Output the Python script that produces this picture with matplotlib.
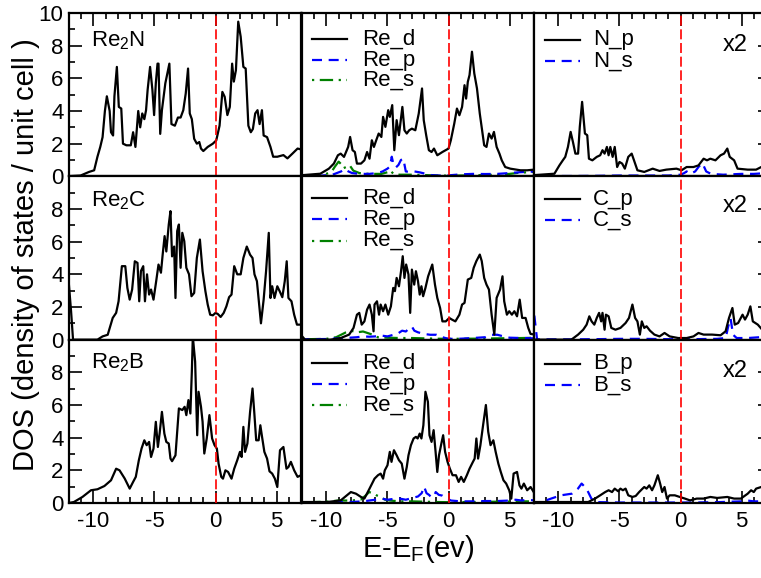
import matplotlib
matplotlib.use('Agg')
import matplotlib.pyplot as plt
from matplotlib.ticker import MultipleLocator, FixedLocator

plt.rcParams['font.family'] = ['Liberation Sans', 'DejaVu Sans']
plt.rcParams['mathtext.default'] = 'regular'
plt.rcParams['axes.unicode_minus'] = False

# ---------------- data ----------------
# Row 1: Re2N
re2n_tot_x = [-12.3, -11.05, -10.36, -9.94, -9.67, -9.44, -9.25, -9.06, -8.9, -8.67, -8.56, -8.39, -8.28, -8.08, -7.92, -7.72, -7.58, -7.3, -6.94, -6.75, -6.56, -6.33, -6.17, -6.0, -5.83, -5.69, -5.56, -5.36, -5.17, -5.03, -4.89, -4.75, -4.67, -4.53, -4.39, -4.11, -3.78, -3.61, -3.33, -3.08, -2.86, -2.64, -2.44, -2.25, -2.11, -1.94, -1.75, -1.53, -1.33, -1.19, -1.0, -0.64, -0.22, 0.06, 0.33, 0.56, 0.75, 0.97, 1.17, 1.36, 1.5, 1.67, 1.86, 2.06, 2.28, 2.47, 2.69, 2.89, 3.06, 3.25, 3.44, 3.61, 3.8, 3.94, 4.22, 4.5, 4.72, 5.06, 5.56, 5.89, 6.31, 6.72, 7.0]
re2n_tot_y = [0, 0.05, 0.27, 0.37, 1.2, 1.8, 2.4, 4.0, 4.9, 4.0, 2.7, 2.5, 4.9, 6.7, 4.25, 4.15, 2.0, 1.9, 1.9, 2.7, 1.8, 4.0, 3.0, 3.85, 3.5, 4.05, 5.3, 6.7, 5.3, 3.75, 5.7, 6.9, 6.9, 2.6, 4.05, 5.7, 6.9, 3.2, 3.1, 3.6, 3.6, 4.05, 5.07, 6.6, 3.85, 3.5, 2.3, 2.0, 2.1, 1.7, 1.55, 1.8, 2.0, 2.2, 3.1, 5.17, 4.87, 3.75, 4.25, 6.9, 5.8, 6.5, 9.47, 8.55, 6.7, 6.6, 3.1, 2.7, 2.9, 3.85, 4.05, 3.2, 4.05, 2.5, 2.4, 1.8, 1.2, 1.2, 1.3, 1.1, 1.4, 1.7, 1.65]

re2n_red_x = [-12.17, -10.5, -9.8, -9.39, -9.06, -8.83, -8.56, -8.22, -8.06, -7.86, -7.67, -7.5, -7.17, -6.89, -6.67, -6.47, -6.28, -6.11, -5.92, -5.72, -5.5, -5.36, -5.17, -4.94, -4.81, -4.61, -4.44, -4.25, -4.06, -3.78, -3.61, -3.42, -3.22, -3.0, -2.72, -2.44, -2.17, -2.03, -1.83, -1.61, -1.39, -1.19, -0.92, -0.5, 0.0, 0.19, 0.47, 0.69, 0.89, 1.11, 1.31, 1.44, 1.58, 1.72, 1.92, 2.11, 2.33, 2.56, 2.75, 2.92, 3.11, 3.31, 3.53, 3.72, 3.94, 4.17, 4.36, 4.64, 5.06, 5.89, 6.44, 7.0]
re2n_red_y = [0.06, 0.16, 0.47, 0.78, 1.29, 1.39, 1.19, 1.8, 2.41, 1.6, 1.49, 0.78, 0.78, 0.98, 1.49, 1.08, 2.21, 1.8, 2.21, 2.62, 2.41, 3.64, 3.03, 4.05, 3.64, 4.36, 1.6, 3.44, 2.52, 4.25, 2.82, 2.62, 2.82, 2.92, 2.82, 3.84, 5.38, 3.44, 2.52, 1.6, 1.49, 1.7, 1.29, 1.49, 1.7, 2.21, 3.23, 4.15, 3.74, 4.25, 5.58, 4.76, 5.79, 6.2, 7.63, 6.3, 5.38, 3.84, 2.82, 1.9, 1.8, 2.62, 2.31, 2.72, 1.8, 1.39, 0.98, 0.57, 0.47, 0.37, 0.37, 0.41]
re2n_rep_x = [-12.2, -10.5, -9.5, -8.8, -8.5, -8.2, -7.9, -7.3, -6.5, -5.8, -5.4, -5.0, -4.8, -4.65, -4.5, -4.3, -4.1, -3.9, -3.7, -3.5, -3.2, -2.8, -2.4, -2.0, -1.5, -0.8, 0.0, 1.0, 2.0, 3.0, 4.0, 5.0, 5.8, 6.5, 7.1]
re2n_rep_y = [0.02, 0.04, 0.1, 0.3, 0.45, 0.3, 0.2, 0.15, 0.15, 0.2, 0.3, 0.47, 0.6, 1.2, 0.7, 0.55, 0.7, 1.0, 1.08, 0.3, 0.27, 0.3, 0.25, 0.18, 0.08, 0.05, 0.06, 0.12, 0.15, 0.14, 0.15, 0.2, 0.25, 0.28, 0.3]
re2n_res_x = [-12.2, -10.5, -9.8, -9.5, -9.3, -9.0, -8.8, -8.6, -8.3, -8.1, -7.8, -7.3, -6.5, -5.5, -5.0, -4.8, -4.5, -4.0, -3.0, -2.0, -1.0, 0.0, 1.0, 2.0, 3.0, 4.0, 5.0, 5.8, 6.5, 7.1]
re2n_res_y = [0.02, 0.05, 0.2, 0.37, 0.6, 0.9, 0.75, 0.5, 0.6, 0.68, 0.35, 0.2, 0.15, 0.15, 0.25, 0.37, 0.15, 0.1, 0.1, 0.08, 0.05, 0.04, 0.05, 0.06, 0.08, 0.1, 0.15, 0.22, 0.25, 0.28]

n_p_x = [-12.28, -10.33, -9.92, -9.64, -9.44, -9.22, -9.0, -8.81, -8.61, -8.39, -8.25, -8.06, -7.83, -7.64, -7.5, -7.22, -6.86, -6.58, -6.39, -6.22, -6.03, -5.89, -5.75, -5.56, -5.39, -5.19, -5.0, -4.78, -4.56, -4.28, -4.0, -3.81, -3.53, -2.97, -2.28, -1.72, -1.17, -0.33, 0.08, 0.5, 1.06, 1.47, 1.89, 2.17, 2.44, 2.86, 3.28, 3.56, 3.83, 4.03, 4.39, 4.67, 5.5, 6.19, 6.61, 7.1]
n_p_y = [0.06, 0.16, 0.67, 0.98, 1.19, 1.8, 2.72, 2.1, 1.39, 1.39, 3.03, 4.56, 2.62, 2.52, 1.08, 0.98, 1.19, 1.29, 1.6, 1.39, 1.8, 1.29, 1.8, 1.19, 1.8, 0.57, 0.88, 0.78, 0.47, 1.19, 1.39, 0.98, 0.37, 0.27, 0.47, 0.33, 0.41, 0.47, 0.37, 0.57, 0.57, 0.67, 1.08, 0.98, 1.08, 0.98, 1.29, 1.39, 1.7, 1.19, 0.98, 0.47, 0.41, 0.41, 0.57, 0.6]
n_s_x = [-12.3, -12.0, -11.0, -9.0, -7.0, -5.0, -3.0, -1.0, 0.0, 0.3, 0.5, 0.8, 1.2, 1.5, 1.8, 2.1, 2.5, 3.5, 5.0, 6.0, 7.1]
n_s_y = [0.3, 0.05, 0.02, 0.02, 0.03, 0.05, 0.05, 0.05, 0.1, 0.2, 0.3, 0.15, 0.3, 0.6, 0.8, 0.3, 0.15, 0.1, 0.15, 0.15, 0.2]

# Row 2: Re2C
re2c_tot_x = [-12.03, -11.83, -11.67, -9.67, -9.25, -8.83, -8.42, -8.14, -7.94, -7.67, -7.39, -7.22, -7.03, -6.83, -6.61, -6.39, -6.25, -6.11, -5.92, -5.78, -5.61, -5.44, -5.28, -5.08, -4.86, -4.67, -4.47, -4.33, -4.17, -4.03, -3.83, -3.69, -3.56, -3.39, -3.28, -3.14, -3.0, -2.86, -2.72, -2.56, -2.39, -2.17, -1.97, -1.75, -1.53, -1.28, -1.06, -0.83, -0.64, -0.44, -0.22, 0.0, 0.19, 0.42, 0.67, 0.89, 1.11, 1.31, 1.53, 1.78, 2.06, 2.28, 2.56, 2.83, 3.03, 3.19, 3.39, 3.72, 3.94, 4.14, 4.36, 4.5, 4.64, 4.83, 5.06, 5.25, 5.47, 5.67, 5.83, 5.97, 6.22, 6.44, 6.67, 7.0]
re2c_tot_y = [3.58, 1.74, 0, 0, 0.2, 0.3, 1.33, 1.64, 2.35, 4.5, 4.5, 3.17, 2.45, 3.07, 4.8, 4.7, 2.35, 4.2, 4.5, 2.35, 4.0, 2.76, 3.07, 2.45, 3.58, 4.6, 4.1, 5.2, 6.34, 5.4, 7.05, 7.87, 5.1, 5.7, 2.55, 6.65, 7.05, 4.4, 6.54, 6.03, 4.4, 4.0, 2.66, 2.86, 5.0, 6.13, 4.19, 2.97, 2.15, 1.53, 1.49, 1.64, 1.57, 1.39, 1.64, 2.04, 2.6, 2.76, 4.5, 4.0, 4.0, 5.0, 5.7, 5.2, 5.0, 4.0, 3.58, 1.0, 2.45, 4.2, 6.54, 2.55, 3.27, 2.55, 3.27, 2.97, 2.6, 3.58, 4.8, 2.55, 2.35, 1.53, 0.92, 0.92]

re2c_red_x = [-12.1, -11.75, -9.67, -8.83, -8.14, -7.78, -7.5, -7.31, -7.11, -6.89, -6.67, -6.47, -6.28, -6.14, -6.06, -5.86, -5.69, -5.56, -5.36, -5.17, -4.94, -4.72, -4.53, -4.39, -4.25, -4.06, -3.89, -3.75, -3.61, -3.47, -3.28, -3.14, -3.0, -2.81, -2.67, -2.5, -2.36, -2.22, -2.08, -1.89, -1.67, -1.33, -1.11, -0.92, -0.69, -0.5, -0.22, 0.06, 0.28, 0.56, 0.89, 1.11, 1.31, 1.58, 1.86, 2.06, 2.28, 2.56, 2.72, 2.92, 3.11, 3.31, 3.53, 3.75, 3.94, 4.22, 4.42, 4.56, 4.78, 4.97, 5.19, 5.39, 5.61, 5.83, 6.03, 6.31, 6.53, 6.72, 7.14]
re2c_red_y = [0.3, 0, 0, 0.1, 0.31, 0.72, 1.53, 1.64, 0.92, 1.12, 1.84, 2.15, 1.53, 0.51, 2.15, 2.35, 1.53, 2.15, 1.74, 2.15, 1.53, 2.04, 3.17, 2.97, 3.78, 3.27, 4.19, 5.11, 3.78, 4.6, 3.99, 1.64, 4.29, 3.37, 4.19, 3.58, 2.76, 3.27, 2.66, 3.17, 3.88, 4.6, 3.37, 2.56, 1.94, 1.12, 1.12, 1.33, 1.23, 1.12, 1.53, 2.15, 2.25, 3.68, 3.78, 4.4, 4.81, 5.21, 4.81, 3.78, 3.37, 3.07, 1.53, 0.31, 2.56, 3.07, 3.88, 2.35, 1.53, 1.74, 1.53, 1.74, 1.43, 2.45, 1.33, 1.33, 0.72, 0.35, 0.31]
re2c_rep_x = [-12.2, -10.0, -8.5, -7.5, -7.0, -6.5, -6.0, -5.5, -5.0, -4.5, -4.2, -3.8, -3.5, -3.2, -3.0, -2.8, -2.5, -2.0, -1.5, -1.0, -0.5, 0.0, 1.0, 2.0, 3.0, 3.5, 4.0, 4.5, 5.0, 6.0, 7.1]
re2c_rep_y = [0.02, 0.04, 0.1, 0.15, 0.2, 0.18, 0.2, 0.25, 0.2, 0.3, 0.35, 0.55, 0.5, 0.7, 0.8, 0.55, 0.45, 0.35, 0.3, 0.3, 0.15, 0.05, 0.06, 0.1, 0.15, 0.3, 0.3, 0.2, 0.12, 0.1, 0.08]
re2c_res_x = [-12.2, -10.0, -9.2, -8.8, -8.4, -8.0, -7.5, -7.0, -6.6, -6.2, -5.8, -5.0, -4.0, -3.0, -2.0, -1.0, 0.0, 2.0, 4.0, 6.0, 7.1]
re2c_res_y = [0.02, 0.05, 0.15, 0.3, 0.45, 0.55, 0.45, 0.5, 0.4, 0.3, 0.15, 0.12, 0.1, 0.1, 0.08, 0.06, 0.05, 0.06, 0.08, 0.1, 0.12]

c_p_x = [-12.28, -8.94, -8.39, -7.97, -7.69, -7.47, -7.28, -7.06, -6.86, -6.67, -6.5, -6.39, -6.22, -6.11, -5.89, -5.67, -5.33, -4.92, -4.5, -4.22, -3.94, -3.72, -3.53, -3.33, -3.17, -2.97, -2.78, -2.5, -2.14, -1.72, -1.31, -0.89, -0.19, 0.5, 1.06, 1.47, 1.89, 2.58, 3.28, 3.69, 3.97, 4.25, 4.44, 4.72, 5.08, 5.28, 5.5, 5.72, 5.92, 6.33, 6.69, 7.1]
c_p_y = [0, 0, 0.31, 0.61, 0.92, 1.43, 1.12, 0.92, 1.33, 1.64, 1.12, 1.64, 0.61, 1.53, 1.43, 0.72, 0.61, 0.72, 1.02, 1.33, 2.15, 1.33, 1.12, 0.31, 1.12, 0.72, 0.82, 0.55, 0.31, 0.2, 0.41, 0.2, 0.1, 0.1, 0.2, 0.41, 0.31, 0.31, 0.27, 0.51, 1.33, 1.94, 0.92, 1.02, 1.53, 1.23, 1.53, 2.04, 1.12, 0.92, 0.61, 0.55]
c_s_x = [-12.3, -12.1, -11.75, -11.0, -9.0, -7.0, -5.0, -3.0, -1.0, 1.0, 3.0, 3.7, 3.9, 4.1, 4.3, 4.6, 5.5, 6.5, 7.1]
c_s_y = [3.5, 2.3, 0.02, 0.02, 0.02, 0.03, 0.05, 0.05, 0.03, 0.03, 0.05, 0.1, 0.8, 1.3, 0.3, 0.1, 0.1, 0.15, 0.5]

# Row 3: Re2B
re2b_tot_x = [-12.03, -11.6, -10.9, -10.2, -9.67, -9.1, -8.56, -8.14, -7.86, -7.44, -7.03, -6.75, -6.53, -6.28, -6.06, -5.83, -5.64, -5.44, -5.28, -5.08, -4.89, -4.72, -4.58, -4.39, -4.19, -4.03, -3.83, -3.69, -3.56, -3.28, -3.0, -2.72, -2.53, -2.39, -2.22, -2.06, -1.94, -1.86, -1.67, -1.5, -1.39, -1.19, -1.06, -0.92, -0.72, -0.5, -0.28, -0.08, 0.11, 0.25, 0.47, 0.61, 0.81, 1.03, 1.31, 1.53, 1.78, 2.0, 2.14, 2.28, 2.42, 2.61, 2.83, 3.03, 3.17, 3.33, 3.53, 3.67, 3.81, 4.0, 4.22, 4.42, 4.64, 4.86, 5.06, 5.28, 5.56, 5.81, 5.97, 6.17, 6.44, 6.72, 7.0]
re2b_tot_y = [0, 0.06, 0.37, 0.78, 0.84, 1.04, 1.39, 2.1, 2.0, 1.5, 0.88, 1.29, 1.6, 2.62, 3.33, 3.84, 3.54, 3.74, 2.82, 3.33, 4.97, 3.43, 4.25, 5.58, 4.25, 3.74, 3.64, 2.72, 2.56, 2.92, 5.79, 5.69, 5.89, 5.38, 6.3, 5.48, 8.04, 10.2, 8.65, 4.15, 6.81, 5.89, 4.97, 3.03, 3.95, 5.38, 3.95, 3.54, 3.33, 2.41, 1.6, 1.49, 2.0, 1.9, 1.49, 2.1, 2.62, 3.13, 2.82, 4.66, 3.13, 3.64, 5.58, 7.01, 5.58, 3.84, 3.84, 4.76, 4.05, 3.13, 2.72, 1.94, 1.8, 1.49, 0.98, 3.23, 3.43, 2.1, 2.2, 2.52, 2.0, 1.6, 1.7]

re2b_red_x = [-12.1, -9.94, -8.83, -8.0, -7.58, -7.17, -6.89, -6.47, -6.06, -5.78, -5.56, -5.36, -5.22, -5.0, -4.81, -4.67, -4.47, -4.25, -4.06, -3.83, -3.61, -3.42, -3.28, -3.08, -2.86, -2.67, -2.53, -2.36, -2.22, -2.06, -1.89, -1.69, -1.56, -1.39, -1.22, -1.06, -0.92, -0.78, -0.56, -0.44, -0.28, -0.08, 0.11, 0.33, 0.61, 0.83, 1.03, 1.25, 1.5, 1.72, 2.0, 2.14, 2.28, 2.42, 2.61, 2.83, 3.06, 3.25, 3.44, 3.67, 3.86, 4.08, 4.28, 4.5, 4.72, 4.97, 5.14, 5.33, 5.61, 5.81, 5.97, 6.17, 6.44, 6.72, 7.06]
re2b_red_y = [0.06, 0.06, 0.16, 0.67, 0.57, 0.37, 0.27, 0.88, 1.49, 1.7, 1.8, 1.49, 2.0, 2.31, 3.13, 2.52, 3.23, 2.92, 2.62, 2.41, 1.49, 2.21, 2.92, 3.54, 3.95, 4.05, 3.95, 4.25, 3.95, 4.76, 6.81, 6.2, 4.15, 3.74, 4.46, 3.13, 1.9, 2.92, 3.74, 4.15, 3.13, 2.52, 2.1, 1.7, 1.7, 1.29, 1.6, 1.29, 1.7, 2.1, 2.52, 2.72, 3.95, 2.72, 3.54, 4.76, 6.0, 4.36, 3.54, 3.84, 3.13, 2.41, 1.9, 1.39, 1.19, 0.78, 0.27, 1.8, 1.9, 1.08, 0.88, 1.19, 0.78, 0.98, 0.57]
re2b_rep_x = [-12.2, -10.0, -8.0, -7.0, -6.5, -6.0, -5.5, -5.0, -4.5, -4.0, -3.5, -3.0, -2.5, -2.2, -2.0, -1.8, -1.6, -1.4, -1.2, -1.05, -0.8, -0.5, -0.2, 0.2, 1.0, 2.0, 3.0, 4.0, 5.0, 5.5, 6.0, 6.5, 7.1]
re2b_rep_y = [0.02, 0.04, 0.06, 0.1, 0.15, 0.2, 0.27, 0.2, 0.25, 0.27, 0.2, 0.3, 0.4, 0.6, 1.0, 0.6, 0.5, 0.35, 0.4, 0.67, 0.5, 0.45, 0.3, 0.15, 0.1, 0.1, 0.12, 0.12, 0.15, 0.2, 0.15, 0.2, 0.15]
re2b_res_x = [-12.2, -10.0, -9.0, -8.0, -7.2, -6.8, -6.5, -6.2, -5.9, -5.5, -5.2, -4.8, -4.0, -3.0, -2.0, -1.0, 0.0, 2.0, 4.0, 6.0, 7.1]
re2b_res_y = [0.03, 0.08, 0.15, 0.15, 0.2, 0.45, 0.67, 0.6, 0.47, 0.35, 0.2, 0.15, 0.1, 0.1, 0.08, 0.06, 0.05, 0.06, 0.08, 0.1, 0.1]

b_p_x = [-12.28, -7.56, -7.0, -6.58, -6.17, -5.89, -5.61, -5.39, -5.11, -4.92, -4.72, -4.5, -4.28, -3.94, -3.67, -3.39, -3.11, -2.97, -2.78, -2.56, -2.33, -2.14, -1.86, -1.67, -1.5, -1.31, -1.11, -0.89, -0.47, -0.06, 0.36, 0.78, 1.33, 1.89, 2.44, 3.0, 3.83, 4.39, 4.94, 5.5, 5.78, 6.0, 6.19, 6.61, 7.1]
b_p_y = [0.06, 0.06, 0.27, 0.47, 0.67, 0.78, 0.67, 0.88, 0.72, 0.88, 0.78, 0.88, 0.47, 0.37, 0.43, 0.67, 0.88, 0.98, 0.88, 1.08, 0.78, 1.08, 1.7, 1.19, 0.67, 0.98, 0.27, 0.47, 0.47, 0.37, 0.27, 0.16, 0.27, 0.27, 0.37, 0.31, 0.37, 0.27, 0.27, 0.57, 0.78, 0.67, 0.88, 0.98, 0.9]
b_s_x = [-12.3, -11.4, -10.6, -9.8, -8.9, -8.4, -8.1, -7.7, -7.3, -7.0, -6.5, -5.0, -3.0, -1.0, 1.0, 3.0, 5.0, 5.5, 6.0, 7.1]
b_s_y = [0.02, 0.06, 0.27, 0.47, 0.57, 0.88, 1.19, 0.88, 0.27, 0.06, 0.05, 0.03, 0.03, 0.03, 0.03, 0.05, 0.1, 0.15, 0.1, 0.1]

compound_labels = ['Re$_2$N', 'Re$_2$C', 'Re$_2$B']
re_labels = ['Re_d', 'Re_p', 'Re_s']
x_labels = [['N_p', 'N_s'], ['C_p', 'C_s'], ['B_p', 'B_s']]
x_ticks = [-10, -5, 0, 5]
x_minor_ticks = list(range(-11, 7))

totals = [(re2n_tot_x, re2n_tot_y), (re2c_tot_x, re2c_tot_y), (re2b_tot_x, re2b_tot_y)]
re_parts = [
    [(re2n_red_x, re2n_red_y), (re2n_rep_x, re2n_rep_y), (re2n_res_x, re2n_res_y)],
    [(re2c_red_x, re2c_red_y), (re2c_rep_x, re2c_rep_y), (re2c_res_x, re2c_res_y)],
    [(re2b_red_x, re2b_red_y), (re2b_rep_x, re2b_rep_y), (re2b_res_x, re2b_res_y)],
]
x_parts = [
    [(n_p_x, n_p_y), (n_s_x, n_s_y)],
    [(c_p_x, c_p_y), (c_s_x, c_s_y)],
    [(b_p_x, b_p_y), (b_s_x, b_s_y)],
]

# ---------------- figure ----------------
W, H = 761, 578
fig = plt.figure(figsize=(W / 100, H / 100), dpi=100)

col_left = [69, 302, 534]
col_w = 232
top, bottom = 13, 503
row_h = (bottom - top) / 3.0
XLIM = (-12, 7)

styles = [
    dict(color='black', lw=1.6, ls='-'),
    dict(color='blue', lw=1.6, dashes=(4.5, 3)),
    dict(color='#008000', lw=1.6, dashes=(1, 2.5, 6, 2.5)),
]

leg_y = [[0.84, 0.712, 0.589], [0.865, 0.736, 0.607], [0.857, 0.728, 0.60]]
lab_y = [0.83, 0.853, 0.857]
x2_y = [0.807, 0.82, 0.81]

for r in range(3):
    for c in range(3):
        ax = fig.add_axes([col_left[c] / W, 1 - (top + (r + 1) * row_h) / H,
                           col_w / W, row_h / H])
        ax.set_xlim(*XLIM)
        ax.set_ylim(0, 10)
        for sp in ax.spines.values():
            sp.set_linewidth(1.6)
        ax.axvline(0, color='red', lw=1.2, dashes=(6, 2.2), zorder=5)

        ax.xaxis.set_major_locator(FixedLocator(x_ticks))
        ax.xaxis.set_minor_locator(FixedLocator(x_minor_ticks))
        ax.tick_params(axis='x', which='both', direction='in',
                       top=(r == 0), bottom=(r == 2), labelbottom=(r == 2),
                       labelsize=16, pad=6)
        ax.tick_params(axis='x', which='major', length=9, width=1.2)
        ax.tick_params(axis='x', which='minor', length=4, width=1.2)

        if c == 0:
            ax.tick_params(axis='y', which='both', direction='in', left=True,
                           right=False, labelleft=True, labelsize=16, pad=4)
            ax.tick_params(axis='y', which='major', length=9, width=1.2)
            ax.tick_params(axis='y', which='minor', length=4.5, width=1.2)
            if r == 0:
                ax.set_yticks([0, 2, 4, 6, 8, 10])
            else:
                ax.set_yticks([0, 2, 4, 6, 8])
            ax.set_yticks([1, 3, 5, 7, 9], minor=True)
            tx, ty = totals[r]
            ax.plot(tx, ty, **styles[0])
            ax.text(0.095, lab_y[r], compound_labels[r], transform=ax.transAxes,
                    fontsize=16, va='center', ha='left')
        elif c == 1:
            ax.tick_params(axis='y', which='both', left=False, right=False,
                           labelleft=False)
            for k in (2, 1, 0):
                px, py = re_parts[r][k]
                ax.plot(px, py, **styles[k])
            for k in range(3):
                ax.plot([0.043, 0.194], [leg_y[r][k]] * 2, transform=ax.transAxes,
                        **styles[k])
                ax.text(0.259, leg_y[r][k], re_labels[k], transform=ax.transAxes,
                        fontsize=16, va='center', ha='left')
        else:
            ax.yaxis.set_major_locator(MultipleLocator(2))
            ax.yaxis.set_minor_locator(MultipleLocator(0.4))
            ax.tick_params(axis='y', which='both', direction='in', left=False,
                           right=True, labelleft=False, labelright=False)
            ax.tick_params(axis='y', which='major', length=6, width=1.2)
            ax.tick_params(axis='y', which='minor', length=2.5, width=1.0)
            for k in (1, 0):
                px, py = x_parts[r][k]
                ax.plot(px, py, **styles[k])
            for k in range(2):
                ax.plot([0.047, 0.198], [leg_y[r][k] - 0.005] * 2,
                        transform=ax.transAxes, **styles[k])
                ax.text(0.254, leg_y[r][k] - 0.005, x_labels[r][k],
                        transform=ax.transAxes, fontsize=16, va='center', ha='left')
            ax.text(0.922, x2_y[r], 'x2', transform=ax.transAxes, fontsize=17,
                    va='center', ha='right')

fig.text(26 / W, 0.56, 'DOS (density of states / unit cell )', rotation=90,
         fontsize=21, va='center', ha='center')
fig.text(418 / W, 0.036, 'E-E$_F$(ev)', fontsize=21, va='baseline', ha='center')

fig.savefig('out.png', dpi=100)
